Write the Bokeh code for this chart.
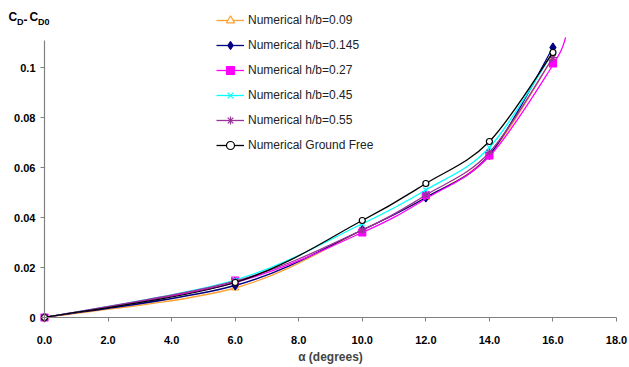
import numpy as np
from bokeh.plotting import figure
from bokeh.models import Range1d, Legend, LegendItem, Label, FixedTicker
from bokeh.embed import file_html
from bokeh.resources import INLINE

# ---- data ----
alpha = [0, 6, 10, 12, 14, 16]
hb_009 = [0, 0.0118, 0.0350, 0.0480, 0.0650, 0.1040]
hb_0145 = [0, 0.0128, 0.0350, 0.0480, 0.0650, 0.1080]
hb_027 = [0, 0.0148, 0.0340, 0.0490, 0.0648, 0.1016]
hb_045 = [0, 0.0150, 0.0375, 0.0510, 0.0680, 0.1060]
hb_055 = [0, 0.0145, 0.0350, 0.0490, 0.0660, 0.1040]
ground_free = [0, 0.0140, 0.0388, 0.0536, 0.0704, 0.1060]
# magenta curve drawn for h/b=0.27 (extends past last marker)
trend_027_x = [0, 6, 10, 12, 14, 16, 16.4]
trend_027_y = [0, 0.0140, 0.0340, 0.0475, 0.0645, 0.1010, 0.1120]

x_ticks = [0, 2, 4, 6, 8, 10, 12, 14, 16, 18]
y_ticks = [0, 0.02, 0.04, 0.06, 0.08, 0.1]
y_tick_labels = {0: "0", 0.02: "0.02", 0.04: "0.04", 0.06: "0.06", 0.08: "0.08", 0.1: "0.1"}
x_axis_max = 18
y_axis_max = 0.1108

FONT = "Liberation Sans"

# the frame covers the whole canvas so that legend, title text and tick
# labels are never clipped; the axes are pinned at 0 and bounded to the
# real chart region
p = figure(output_backend="svg", toolbar_location=None,
           x_range=Range1d(-1.3846, 18.409), y_range=Range1d(-0.02, 0.1268),
           min_border_left=0, min_border_right=0, min_border_top=0, min_border_bottom=0,
           frame_width=629, frame_height=367)
p.outline_line_color = None
p.xgrid.grid_line_color = None
p.ygrid.grid_line_color = None
p.background_fill_color = "white"
p.border_fill_color = "white"

for ax in (p.xaxis[0], p.yaxis[0]):
    ax.axis_line_color = "#808080"
    ax.axis_line_width = 1.2
    ax.major_tick_line_color = "#808080"
    ax.major_tick_out = 4
    ax.major_tick_in = 0
    ax.minor_tick_line_color = None
    ax.major_label_text_font = FONT
    ax.major_label_text_font_style = "bold"
    ax.major_label_text_font_size = "11px"
    ax.major_label_text_color = "black"

p.xaxis.ticker = FixedTicker(ticks=x_ticks)
p.xaxis.bounds = (0, x_axis_max)
p.xaxis.fixed_location = 0
p.xaxis.major_label_overrides = {t: f"{t:.1f}" for t in x_ticks}
p.xaxis.major_label_standoff = 14
p.xaxis.axis_label = "α (degrees)"
p.xaxis.axis_label_text_font = FONT
p.xaxis.axis_label_text_font_style = "bold"
p.xaxis.axis_label_text_font_size = "12px"
p.xaxis.axis_label_standoff = 3

p.yaxis.ticker = FixedTicker(ticks=y_ticks)
p.yaxis.bounds = (0, y_axis_max)
p.yaxis.fixed_location = 0
p.yaxis.major_label_overrides = y_tick_labels
p.yaxis.major_label_standoff = 5


def smooth(xs, ys):
    """Bezier control points (Excel-like smoothing) from the data points."""
    P = np.column_stack([xs, ys]).astype(float)
    prev = np.vstack([P[:1], P[:-1]])
    nxt = np.vstack([P[1:], P[-1:]])
    tang = (nxt - prev) / 6.0
    a, b = P[:-1], P[1:]
    c0 = a + tang[:-1]
    c1 = b - tang[1:]
    return dict(x0=a[:, 0], y0=a[:, 1], x1=b[:, 0], y1=b[:, 1],
                cx0=c0[:, 0], cy0=c0[:, 1], cx1=c1[:, 0], cy1=c1[:, 1])


items = []
series = [
    ("Numerical h/b=0.09", alpha, hb_009, "#FFA030", "triangle", "white", 7),
    ("Numerical h/b=0.145", alpha, hb_0145, "#000080", "diamond", "#000080", 9),
    ("Numerical h/b=0.27", alpha, hb_027, "#FF00FF", "square", "#FF00FF", 7),
    ("Numerical h/b=0.45", alpha, hb_045, "#00FFFF", "x", "#00FFFF", 7),
    ("Numerical h/b=0.55", alpha, hb_055, "#993399", "asterisk", "#993399", 8),
    ("Numerical Ground Free", alpha, ground_free, "#000000", "circle", "white", 6),
]
for name, xs, ys, col, mk, fill, sz in series:
    if name == "Numerical h/b=0.27":
        cp = smooth(trend_027_x, trend_027_y)
    else:
        cp = smooth(xs, ys)
    r1 = p.bezier(line_color=col, line_width=1.3, **cp)
    r2 = p.scatter(xs, ys, marker=mk, size=sz, line_color=col, fill_color=fill, line_width=1.2)
    items.append(LegendItem(label=name, renderers=[r1, r2]))

legend = Legend(items=items, location=(216, 212), orientation="vertical",
                background_fill_alpha=0, border_line_color=None,
                padding=0, margin=0, spacing=5,
                glyph_height=20, glyph_width=28, label_height=20,
                label_standoff=4, label_text_font=FONT,
                label_text_font_size="12px", label_text_color="#222222")
p.add_layout(legend, "center")

# y-axis title C_D-C_D0 at top-left
lab_kw = dict(x_units="screen", y_units="screen", text_font=FONT,
              text_font_style="bold", text_color="black")
p.add_layout(Label(x=8, y=344, text="C", text_font_size="12px", **lab_kw))
p.add_layout(Label(x=16.5, y=341, text="D", text_font_size="9px", **lab_kw))
p.add_layout(Label(x=23, y=344, text="-", text_font_size="12px", **lab_kw))
p.add_layout(Label(x=29, y=344, text="C", text_font_size="12px", **lab_kw))
p.add_layout(Label(x=37.5, y=341, text="D0", text_font_size="9px", **lab_kw))

open("out.html", "w").write(file_html(p, INLINE))
